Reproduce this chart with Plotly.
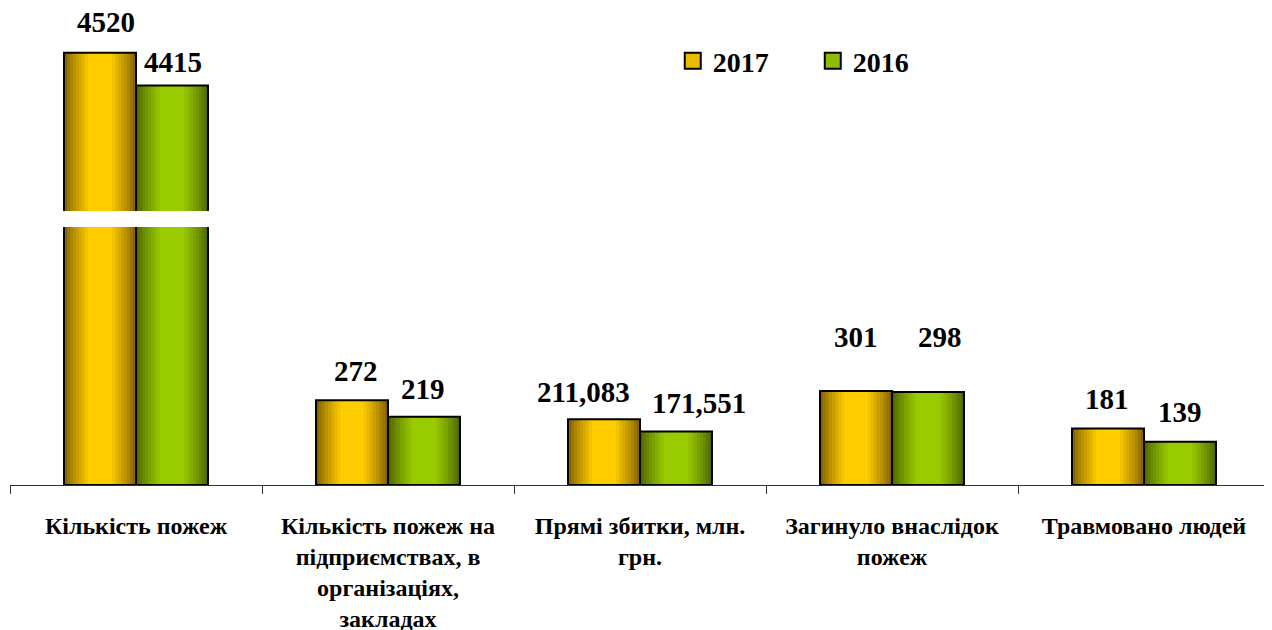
import plotly.graph_objects as go

# ---- data ----
categories = ["Кількість пожеж",
              "Кількість пожеж на підприємствах, в організаціях, закладах",
              "Прямі збитки, млн. грн.",
              "Загинуло внаслідок пожеж",
              "Травмовано людей"]
tick_labels = ["Кількість пожеж",
               "Кількість пожеж на<br>підприємствах, в<br>організаціях,<br>закладах",
               "Прямі збитки, млн.<br>грн.",
               "Загинуло внаслідок<br>пожеж",
               "Травмовано людей"]
series_names = ["2017", "2016"]
values_2017 = [4520, 272, 211.083, 301, 181]
values_2016 = [4415, 219, 171.551, 298, 139]

# ---- style ----
FONT = "Liberation Serif"
dark_cols = {"2017": (0x78, 0x58, 0x00), "2016": (0x48, 0x5E, 0x00)}
bright_cols = {"2017": (0xFF, 0xCC, 0x00), "2016": (0x99, 0xCC, 0x00)}
BAR_W = 0.2857          # width of one bar in category units
N_LAYERS = 12
# break geometry (axis ranges of the two panels)
low_range = [0, 827]
high_range = [4010, 4658]
H_PLOT = 475
low_dom = [0, 258 / H_PLOT]
high_dom = [274 / H_PLOT, 1]

# label nudges (px): (dx, dy) per series per category
nudge = {
    "2017": [(6, 31), (4, 29), (-21, 27), (0, 54), (-1, 30)],
    "2016": [(1, 23), (-1, 28), (23, 28), (12, 55), (0, 30)],
}


def mix(c1, c2, t):
    return "rgb(%d,%d,%d)" % tuple(round(a + (b - a) * t) for a, b in zip(c1, c2))


fig = go.Figure()
series = [("2017", values_2017, -BAR_W / 2), ("2016", values_2016, BAR_W / 2)]
for xa, ya in [("x", "y"), ("x2", "y2")]:
    for name, vals, centre in series:
        for k in range(N_LAYERS):
            w = BAR_W * (1 - k / N_LAYERS)
            d = (k + 0.5) / N_LAYERS
            t = min(1.0, d / 0.7) ** 0.8
            fig.add_trace(go.Bar(
                x=categories, y=vals, width=w, offset=centre - w / 2,
                marker=dict(color=mix(dark_cols[name], bright_cols[name], t),
                            line=dict(width=0)),
                xaxis=xa, yaxis=ya, showlegend=False, hoverinfo="skip"))
        fig.add_trace(go.Bar(
            x=categories, y=vals, width=BAR_W, offset=centre - BAR_W / 2,
            marker=dict(color="rgba(0,0,0,0)", line=dict(color="black", width=2)),
            xaxis=xa, yaxis=ya, showlegend=False, name=name))

# legend entries
for name in series_names:
    fig.add_trace(go.Scatter(
        x=[None], y=[None], mode="markers", name=name,
        marker=dict(symbol="square", size=20,
                    color=mix(dark_cols[name], bright_cols[name], 0.85),
                    line=dict(color="black", width=2))))

# value labels
annotations = []
for name, vals, centre in series:
    for i, v in enumerate(vals):
        txt = f"{v:g}".replace(".", ",")
        dx, dy = nudge[name][i]
        on_high = v > low_range[1]
        annotations.append(dict(
            x=categories[i], y=v, xref="x2" if on_high else "x",
            yref="y2" if on_high else "y",
            text=txt, showarrow=False, yanchor="middle",
            xshift=centre / BAR_W * 72 + dx, yshift=dy,
            font=dict(family=FONT, size=29, color="black", weight="bold")))

# the page body adds an 8px margin, compensated in the figure margins
fig.update_layout(
    width=1272, height=630,
    margin=dict(l=2, r=10, t=2, b=153),
    paper_bgcolor="white", plot_bgcolor="white",
    barmode="overlay",
    font=dict(family=FONT, color="black"),
    annotations=annotations,
    legend=dict(orientation="h", x=0.526, xanchor="left", y=0.8926, yanchor="middle",
                font=dict(family=FONT, size=28, color="black", weight="bold"),
                bgcolor="rgba(0,0,0,0)", entrywidth=95, itemwidth=30),
    xaxis=dict(type="category", anchor="y", domain=[0, 1],
               categoryorder="array", categoryarray=categories,
               tickmode="array", tickvals=categories, ticktext=tick_labels,
               tickson="boundaries", ticks="outside", ticklen=8,
               tickcolor="#333", showline=True, linecolor="#333", linewidth=1,
               showgrid=False, zeroline=False, automargin=False,
               ticklabelstandoff=19,
               tickfont=dict(family=FONT, size=24, color="black", weight="bold")),
    yaxis=dict(domain=low_dom, range=low_range, visible=False, showgrid=False),
    xaxis2=dict(type="category", anchor="y2", matches="x", visible=False,
                categoryorder="array", categoryarray=categories),
    yaxis2=dict(domain=high_dom, range=high_range, visible=False, showgrid=False),
)

fig.write_html("out.html")
